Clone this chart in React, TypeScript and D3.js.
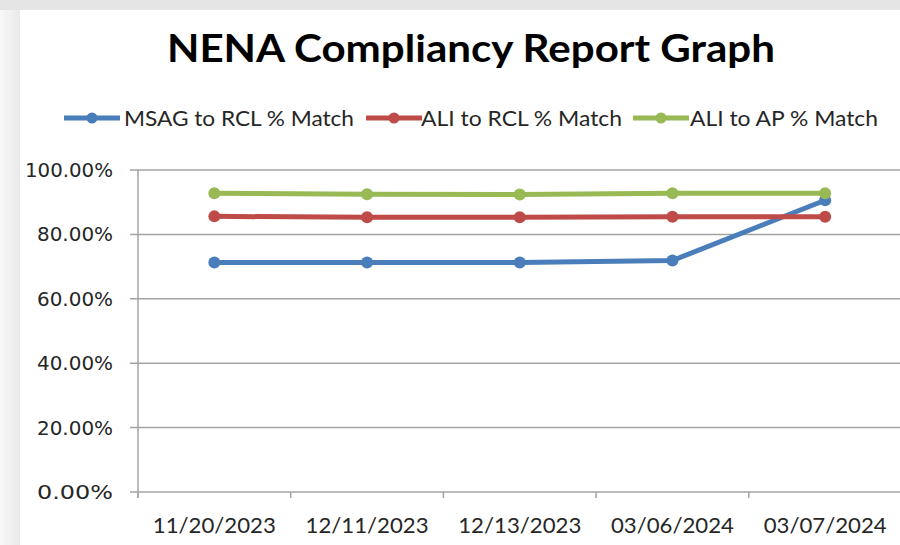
import React from "react";
import * as d3 from "d3";

const dates = ["11/20/2023", "12/11/2023", "12/13/2023", "03/06/2024", "03/07/2024"];
const msagToRcl = [0.713, 0.713, 0.713, 0.719, 0.906];
const aliToRcl = [0.856, 0.853, 0.853, 0.855, 0.855];
const aliToAp = [0.928, 0.925, 0.924, 0.928, 0.928];
const yTicks = [0, 0.2, 0.4, 0.6, 0.8, 1];

const seriesNames = ["MSAG to RCL % Match", "ALI to RCL % Match", "ALI to AP % Match"];
const seriesColors = ["#4a7ebb", "#be4b48", "#98b954"];
const seriesValues = [msagToRcl, aliToRcl, aliToAp];

// legend layout (x of swatch start, text start, text width)
const legendPos = [
  { sx: 64, tx: 124, tw: 230 },
  { sx: 366, tx: 421, tw: 201 },
  { sx: 633, tx: 690, tw: 188 },
];

const W = 900;
const H = 545;
const left = 138;
const right = 901.5;
const top = 170;
const bottom = 492;

const App = () => {
  const x = d3.scaleBand<string>().domain(dates).range([left, right]);
  const y = d3.scaleLinear().domain([0, 1]).range([bottom, top]);
  const bw = x.bandwidth();
  const cx = (d: string) => (x(d) as number) + bw / 2;

  const line = d3
    .line<number>()
    .x((_, i) => cx(dates[i]))
    .y((v) => y(v));

  const grid = "#a3a3a3";

  return (
    <div style={{ position: "fixed", left: 0, top: 0, width: W, height: H, background: "#fff" }}>
      <svg width={W} height={H} style={{ display: "block" }}>
        <defs>
          <linearGradient id="edge" x1="0" x2="1" y1="0" y2="0">
            <stop offset="0" stopColor="#f8f8f8" />
            <stop offset="1" stopColor="#e9e9e9" />
          </linearGradient>
        </defs>
        <rect x={0} y={0} width={W} height={H} fill="#fff" />
        <rect x={0} y={0} width={20} height={H} fill="url(#edge)" />
        <rect x={0} y={0} width={W} height={10} fill="#e5e5e5" />

        <text
          x={471}
          y={62}
          textAnchor="middle"
          fontFamily="Lato, 'Open Sans', sans-serif"
          fontWeight={700}
          fontSize={38}
          textLength={608}
          lengthAdjust="spacingAndGlyphs"
          fill="#000"
        >
          NENA Compliancy Report Graph
        </text>

        {seriesNames.map((name, i) => (
          <g key={name}>
            <line
              x1={legendPos[i].sx}
              x2={legendPos[i].sx + 56}
              y1={118}
              y2={118}
              stroke={seriesColors[i]}
              strokeWidth={5}
            />
            <circle cx={legendPos[i].sx + 28} cy={118} r={5.5} fill={seriesColors[i]} />
            <text
              x={legendPos[i].tx}
              y={126}
              fontFamily="Lato, 'Open Sans', sans-serif"
              fontSize={21}
              textLength={legendPos[i].tw}
              lengthAdjust="spacingAndGlyphs"
              fill="#262626"
            >
              {name}
            </text>
          </g>
        ))}

        {yTicks.map((t) => (
          <g key={t}>
            <line x1={130} x2={right} y1={y(t)} y2={y(t)} stroke={grid} strokeWidth={1.5} />
            <text
              x={113}
              y={y(t) + 7}
              textAnchor="end"
              fontFamily="'DejaVu Sans', sans-serif"
              fontSize={19}
              textLength={t === 1 ? 88 : 76}
              lengthAdjust="spacingAndGlyphs"
              fill="#262626"
            >
              {d3.format(".2%")(t)}
            </text>
          </g>
        ))}

        <line x1={left} x2={left} y1={top} y2={bottom + 6} stroke={grid} strokeWidth={1.5} />
        {d3.range(dates.length + 1).map((i) => (
          <line
            key={i}
            x1={left + i * bw}
            x2={left + i * bw}
            y1={bottom}
            y2={bottom + 6}
            stroke={grid}
            strokeWidth={1.5}
          />
        ))}
        {dates.map((d) => (
          <text
            key={d}
            x={cx(d)}
            y={533}
            textAnchor="middle"
            fontFamily="Lato, 'Open Sans', sans-serif"
            fontSize={22}
            textLength={123}
            lengthAdjust="spacingAndGlyphs"
            fill="#262626"
          >
            {d}
          </text>
        ))}

        {seriesValues.map((vals, i) => (
          <g key={seriesNames[i]}>
            <path
              d={line(vals) || ""}
              fill="none"
              stroke={seriesColors[i]}
              strokeWidth={5}
              strokeLinejoin="round"
            />
            {vals.map((v, j) => (
              <circle key={j} cx={cx(dates[j])} cy={y(v)} r={6} fill={seriesColors[i]} />
            ))}
          </g>
        ))}
      </svg>
    </div>
  );
};

export default App;
